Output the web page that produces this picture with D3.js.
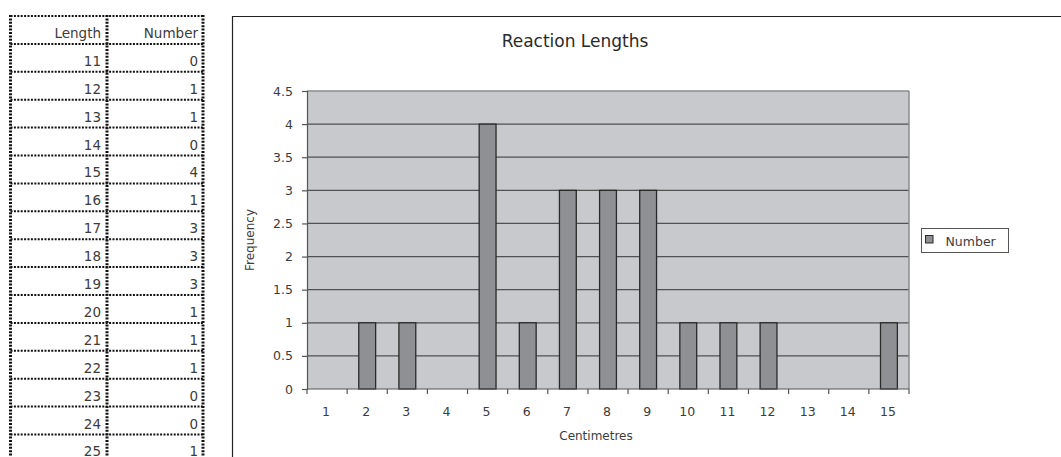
<!DOCTYPE html>
<html>
<head>
<meta charset="utf-8">
<script src="https://cdn.jsdelivr.net/npm/d3@7"></script>
<style>
  html, body { margin: 0; padding: 0; background: #fff; }
  svg { display: block; font-family: "DejaVu Sans", sans-serif; }
</style>
</head>
<body>
<svg id="chart" width="1061" height="457"></svg>
<script>
// Spreadsheet columns
const lengths = [11, 12, 13, 14, 15, 16, 17, 18, 19, 20, 21, 22, 23, 24, 25];
const numbers = [0, 1, 1, 0, 4, 1, 3, 3, 3, 1, 1, 1, 0, 0, 1];

// Chart categories (centimetres) and frequencies
const categories = ["1", "2", "3", "4", "5", "6", "7", "8", "9", "10", "11", "12", "13", "14", "15"];
const frequency = [0, 1, 1, 0, 4, 1, 3, 3, 3, 1, 1, 1, 0, 0, 1];
const yTicks = [0, 0.5, 1, 1.5, 2, 2.5, 3, 3.5, 4, 4.5];

const svg = d3.select("#chart");
const textColor = "#3c3c3c";

// ---------- Table ----------
const table = svg.append("g");
const tLeft = 10.5, tMid = 107, tRight = 203, tTop = 16, rowH = 27.9;
const rows = [["Length", "Number"]].concat(lengths.map((l, i) => [String(l), String(numbers[i])]));
const tBottom = tTop + rows.length * rowH;
const dotted = sel => sel.attr("stroke", "#111").attr("stroke-dasharray", "2,1.4").attr("fill", "none");

rows.forEach((r, i) => {
  const y0 = tTop + i * rowH;
  table.append("line").attr("x1", tLeft).attr("x2", tRight).attr("y1", y0).attr("y2", y0)
    .call(dotted).attr("stroke-width", 2);
  table.append("text").attr("x", tMid - 6).attr("y", y0 + rowH - 6)
    .attr("text-anchor", "end").attr("font-size", 13.5).attr("fill", textColor).text(r[0]);
  table.append("text").attr("x", tRight - 5).attr("y", y0 + rowH - 6)
    .attr("text-anchor", "end").attr("font-size", 13.5).attr("fill", textColor).text(r[1]);
});
[tLeft, tMid, tRight].forEach(x => {
  table.append("line").attr("x1", x).attr("x2", x).attr("y1", tTop - 1).attr("y2", tBottom)
    .call(dotted).attr("stroke-width", 3);
});

// ---------- Chart frame ----------
svg.append("path").attr("d", "M232.5,457 V16.5 H1061")
  .attr("fill", "none").attr("stroke", "#222").attr("stroke-width", 1.2);

svg.append("text").attr("x", 575).attr("y", 47).attr("text-anchor", "middle")
  .attr("font-size", 17).attr("fill", "#2a2a2a").text("Reaction Lengths");

// ---------- Plot ----------
const plot = { left: 307, right: 909, top: 91, bottom: 389 };
const x = d3.scaleBand().domain(categories).range([plot.left, plot.right]).paddingInner(0).paddingOuter(0);
const y = d3.scaleLinear().domain([0, 4.5]).range([plot.bottom, plot.top]);

svg.append("rect").attr("x", plot.left).attr("y", plot.top)
  .attr("width", plot.right - plot.left).attr("height", plot.bottom - plot.top)
  .attr("fill", "#c8c9cd");

// Gridlines
svg.append("g").selectAll("line").data(yTicks.filter(d => d > 0)).join("line")
  .attr("x1", plot.left).attr("x2", plot.right)
  .attr("y1", d => y(d)).attr("y2", d => y(d))
  .attr("stroke", d => d === 4.5 ? "#8a8b8e" : "#505153").attr("stroke-width", 1.3);

// Right border of plot area
svg.append("line").attr("x1", plot.right).attr("x2", plot.right)
  .attr("y1", plot.top).attr("y2", plot.bottom).attr("stroke", "#8a8b8e").attr("stroke-width", 1.5);

// Bars
const barW = x.step() * 0.42;
svg.append("g").selectAll("rect").data(categories.map((c, i) => ({ c, v: frequency[i] })).filter(d => d.v > 0))
  .join("rect")
  .attr("x", d => x(d.c) + x.step() / 2 - barW / 2)
  .attr("y", d => y(d.v))
  .attr("width", barW)
  .attr("height", d => y(0) - y(d.v))
  .attr("fill", "#8f9094").attr("stroke", "#2a2a2a").attr("stroke-width", 1.3);

// Y axis
const yAxis = svg.append("g").attr("transform", `translate(${plot.left},0)`)
  .call(d3.axisLeft(y).tickValues(yTicks).tickSize(5).tickPadding(9).tickFormat(d3.format("")));
yAxis.select(".domain").attr("stroke", "#555").attr("stroke-width", 1.2);
yAxis.selectAll(".tick line").attr("stroke", "#555").attr("stroke-width", 1.2);
yAxis.selectAll("text").attr("font-size", 12.5).attr("fill", textColor)
  .attr("font-family", "DejaVu Sans, sans-serif");

// X axis: ticks at category boundaries
const xAxisG = svg.append("g").attr("transform", `translate(0,${plot.bottom})`);
xAxisG.append("line").attr("x1", plot.left).attr("x2", plot.right).attr("y1", 0).attr("y2", 0)
  .attr("stroke", "#555").attr("stroke-width", 1.2);
const boundaries = categories.map(c => x(c)).concat([plot.right]);
xAxisG.selectAll("line.tk").data(boundaries).join("line").attr("class", "tk")
  .attr("x1", d => d).attr("x2", d => d).attr("y1", 0).attr("y2", 5)
  .attr("stroke", "#555").attr("stroke-width", 1.2);
xAxisG.selectAll("text").data(categories).join("text")
  .attr("x", d => x(d) + x.step() / 2 - 1).attr("y", 27)
  .attr("text-anchor", "middle").attr("font-size", 12.5).attr("fill", textColor).text(d => d);

// Axis titles
svg.append("text").attr("x", 596).attr("y", 440).attr("text-anchor", "middle")
  .attr("font-size", 12).attr("fill", textColor).text("Centimetres");
svg.append("text").attr("transform", "translate(254,240) rotate(-90)").attr("text-anchor", "middle")
  .attr("font-size", 12).attr("fill", textColor).text("Frequency");

// Legend
const legend = svg.append("g");
legend.append("rect").attr("x", 921.5).attr("y", 228.5).attr("width", 87).attr("height", 24)
  .attr("fill", "#fff").attr("stroke", "#555").attr("stroke-width", 1);
legend.append("rect").attr("x", 925.5).attr("y", 235.5).attr("width", 7.5).attr("height", 7.5)
  .attr("fill", "#8f9094").attr("stroke", "#2a2a2a").attr("stroke-width", 1);
legend.append("text").attr("x", 945.5).attr("y", 246).attr("font-size", 12.5).attr("fill", textColor).text("Number");
</script>
</body>
</html>
